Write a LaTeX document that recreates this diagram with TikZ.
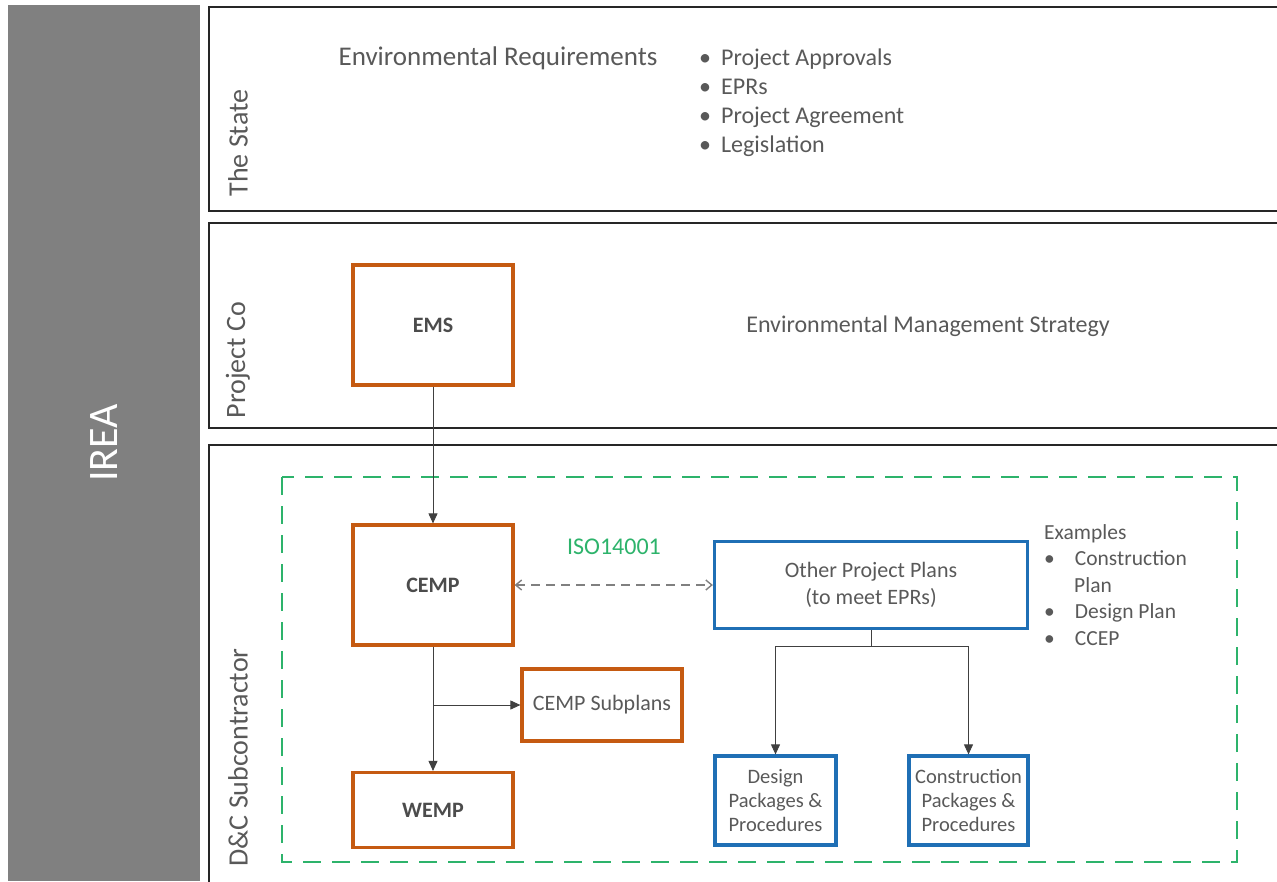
\documentclass[tikz,border=0pt]{standalone}
\usepackage{fontspec}
\setmainfont{Carlito}
\usetikzlibrary{arrows.meta,positioning}
\definecolor{orng}{HTML}{C55A11}
\definecolor{blu}{HTML}{1F6FB5}
\definecolor{grn}{HTML}{2DB36B}
\definecolor{txtgrey}{HTML}{595959}
\definecolor{bargrey}{HTML}{808080}
\tikzset{
  lane/.style={ draw=black!85, line width=2pt },
  lanelabel/.style={ rotate=90, anchor=west, text=txtgrey, font=\fontsize{28}{32}\selectfont },
  planA/.style={ draw=orng, line width=3.2pt, text=black!70, font=\bfseries\fontsize{22}{26}\selectfont },
  planB/.style={ draw=blu, line width=3.2pt, text=txtgrey, align=center, font=\fontsize{20.5}{24}\selectfont },
  plain/.style={ text=txtgrey, font=\fontsize{24}{28}\selectfont },
  link/.style={ draw=black!75, line width=0.9pt, -{Triangle[length=10pt,width=9pt]} }
}

\begin{document}
\begin{tikzpicture}[x=1pt, y=-1pt]
  \useasboundingbox (0,0) rectangle (1277,881);
  % IREA bar
  \fill[bargrey] (8,5) rectangle (200,881);
  \node[rotate=90, text=white, font=\fontsize{42}{46}\selectfont] (irea) at (104,443) {IREA};

  % swim lanes
  \draw[lane] (209,7) rectangle (1290,211);
  \draw[lane] (209,223) rectangle (1290,428);
  \draw[lane] (209,445) rectangle (1290,895);
  \node[lanelabel] (state) at (238,200) {The State};
  \node[lanelabel] (pco) at (238,422) {Project Co};
  \node[lanelabel] (dnc) at (238,870) {D\&C Subcontractor};

  % the state
  \node[plain, font=\fontsize{27}{30}\selectfont] (envreq) at (498,58) {Environmental Requirements};
  \node[plain, anchor=north west, align=left, inner sep=0pt, font=\fontsize{24}{29}\selectfont] (reqs) at (699,49)
    {\textbullet\hspace{10pt}Project Approvals\\
     \textbullet\hspace{10pt}EPRs\\
     \textbullet\hspace{10pt}Project Agreement\\
     \textbullet\hspace{10pt}Legislation};

  % project co
  \node[planA, minimum width=160pt, minimum height=120pt] (ems) at (433,325) {EMS};
  \node[plain] (strategy) at (928,326) {Environmental Management Strategy};

  % D&C subcontractor
  \draw[grn, line width=2pt, dash pattern=on 18pt off 11pt] (282,477) rectangle (1237,862);
  \node[planA, minimum width=160pt, minimum height=120pt] (cemp) at (433,585) {CEMP};
  \node[planA, minimum width=160pt, minimum height=75pt] (wemp) at (433,810) {WEMP};
  \node[planA, font=\fontsize{22}{26}\selectfont, text=txtgrey, minimum width=160pt, minimum height=72pt] (sub) at (602,705) {CEMP Subplans};
  \node[text=grn, font=\fontsize{24}{28}\selectfont] (iso) at (614,547) {ISO14001};
  \node[planB, font=\fontsize{22}{26.7}\selectfont, minimum width=313pt, minimum height=87pt] (other) at (871,585) {Other Project Plans\\(to meet EPRs)};
  \node[planB, minimum width=121pt, minimum height=89pt] (dpack) at (775.5,800.5) {Design\\Packages \&\\Procedures};
  \node[planB, minimum width=119pt, minimum height=89pt] (cpack) at (968.5,800.5) {Construction\\Packages \&\\Procedures};
  \node[plain, anchor=north west, align=left, inner sep=0pt, font=\fontsize{21.5}{26.5}\selectfont] (examples) at (1044,524)
    {Examples\\
     \textbullet\hspace{20pt}Construction\\
     \hspace{30pt}Plan\\
     \textbullet\hspace{20pt}Design Plan\\
     \textbullet\hspace{20pt}CCEP};

  \coordinate (split) at (433,705);
  \coordinate (fork) at (871,646);
  \draw[link] (ems) -- (cemp);
  \draw[link] (cemp) -- (wemp);
  \draw[link] (split) -- (sub);
  \draw[draw=black!50, line width=1.4pt, dash pattern=on 9pt off 6pt, {Straight Barb[length=6pt,width=10pt]}-{Straight Barb[length=6pt,width=10pt]}] (cemp) -- (other);
  \draw[draw=black!75, line width=0.9pt] (other) -- (fork);
  \draw[link] (fork) -| (dpack);
  \draw[link] (fork) -| (cpack);
\end{tikzpicture}
\end{document}
